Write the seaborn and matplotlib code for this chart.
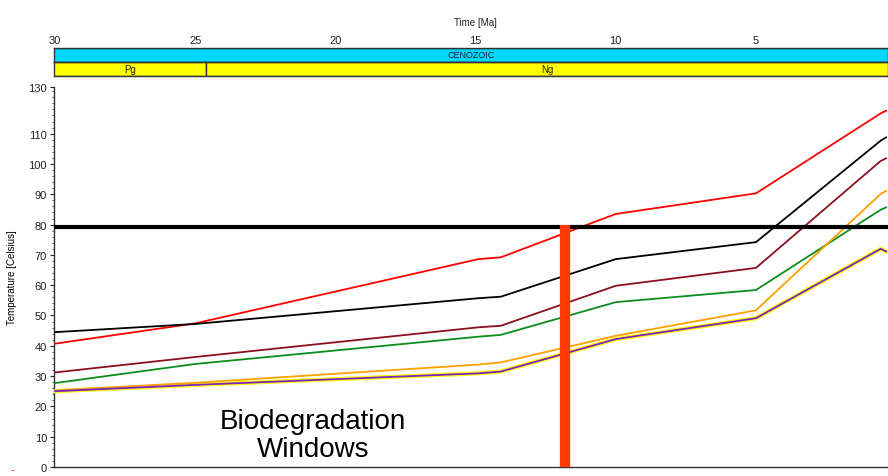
import numpy as np
import pandas as pd
import matplotlib
matplotlib.use("Agg")
import matplotlib.pyplot as plt
from matplotlib.ticker import MultipleLocator, FixedLocator
import seaborn as sns

# ---------------- data ----------------
time_ma = [30, 25, 14.9, 14.1, 10, 5, 0.55, 0.35]
red_t    = [40.7, 47.4, 68.6, 69.2, 83.5, 90.3, 116.7, 117.6]
black_t  = [44.5, 47.2, 55.7, 56.2, 68.6, 74.2, 107.7, 108.8]
maroon_t = [31.2, 36.3, 46.1, 46.6, 59.8, 65.7, 101.0, 101.9]
green_t  = [27.7, 34.0, 43.0, 43.6, 54.4, 58.4, 84.9, 85.7]
orange_t = [25.3, 27.8, 33.8, 34.5, 43.3, 51.7, 90.1, 91.2]
yellow_t = [25.0, 27.1, 30.9, 31.5, 42.2, 49.1, 72.0, 71.1]
purple_t = [25.0, 27.1, 30.9, 31.5, 42.2, 49.1, 72.0, 71.1]

threshold_c = 79.3          # thick black horizontal line
window_ma = 11.8            # red-orange vertical bar
era_names = ["CENOZOIC"]
era_start = [66.0]
era_end = [0.0]
period_names = ["Pg", "Ng"]
period_start = [66.0, 24.6]
period_end = [24.6, 0.0]
x_ticks = [30, 25, 20, 15, 10, 5]
y_ticks = [0, 10, 20, 30, 40, 50, 60, 70, 80, 90, 100, 110, 125.4]
y_tick_labels = ["0", "10", "20", "30", "40", "50", "60", "70", "80", "90", "100", "110", "130"]
annotation = "Biodegradation\nWindows"

series = {
    "yellow": yellow_t, "red": red_t, "black": black_t, "maroon": maroon_t,
    "green": green_t, "orange": orange_t, "purple": purple_t,
}
colors = {
    "yellow": "#FFFF00", "red": "#FF0000", "black": "#000000", "maroon": "#8B1020",
    "green": "#0C8C1C", "orange": "#FFA000", "purple": "#7A22C8",
}
widths = {"yellow": 3.0, "red": 1.3, "black": 1.3, "maroon": 1.3,
          "green": 1.3, "orange": 1.3, "purple": 1.3}

df = pd.concat([pd.DataFrame({"time": time_ma, "temp": v, "series": k})
                for k, v in series.items()], ignore_index=True)

# ---------------- figure ----------------
sns.set_style("white")
plt.rcParams["font.family"] = ["Liberation Sans Narrow", "Liberation Sans", "DejaVu Sans"]
plt.rcParams["text.color"] = "black"

W, H = 888, 477
fig = plt.figure(figsize=(W / 100, H / 100), dpi=100)

def fax(left, top, right, bottom):
    return [left / W, 1 - bottom / H, (right - left) / W, (bottom - top) / H]

xlim = (30.036, 0.29)

ax = fig.add_axes(fax(54, 88, 888, 468))
ax_c = fig.add_axes(fax(54, 49, 888, 62.7))
ax_y = fig.add_axes(fax(54, 62.7, 888, 77.3))

# main lines
for name in series:
    sub = df[df["series"] == name]
    sns.lineplot(data=sub, x="time", y="temp", ax=ax, color=colors[name],
                 lw=widths[name], sort=False, estimator=None, legend=False, zorder=3)

ax.axhline(threshold_c, color="black", lw=3.0, zorder=4)
ax.vlines(window_ma, 0, threshold_c + 0.5, color="#FF3A00", lw=7.4, zorder=5)

ax.text(20.8, 10.6, annotation, ha="center", va="center", fontsize=20, color="black",
        family=["Liberation Sans", "DejaVu Sans"], linespacing=1.12, zorder=6)

ax.set_xlim(*xlim)
ax.set_ylim(0, 125.4)
ax.set_xlabel("")
ax.set_ylabel("Temperature [Celsius]", fontsize=7, labelpad=8, color="black")
ax.yaxis.set_major_locator(FixedLocator(y_ticks))
ax.set_yticklabels(y_tick_labels)
ax.yaxis.set_minor_locator(MultipleLocator(2))
ax.tick_params(axis="y", which="major", direction="out", length=3, width=0.8,
               labelsize=8, colors="#222222", pad=2, left=True)
ax.tick_params(axis="y", which="minor", direction="out", length=1.5, width=0.6,
               left=True, colors="#444444")
ax.set_xticks([])
for s in ["top", "right"]:
    ax.spines[s].set_visible(False)
for s in ["left", "bottom"]:
    ax.spines[s].set_color("#333333")
    ax.spines[s].set_linewidth(1.0)

# era band (cyan)
ax_c.barh([0] * len(era_names), [s - e for s, e in zip(era_start, era_end)],
          left=era_end, height=1.0, color="#00D8FF", edgecolor="#333333", linewidth=1.0)
for n, s, e in zip(era_names, era_start, era_end):
    ax_c.text((max(e, xlim[1]) + min(s, xlim[0])) / 2, 0, n, ha="center", va="center",
              fontsize=6.5, color="#222222")
ax_c.set_xlim(*xlim)
ax_c.set_ylim(-0.5, 0.5)
ax_c.set_yticks([])
ax_c.xaxis.tick_top()
ax_c.set_xticks(x_ticks)
ax_c.set_xticklabels([str(t) for t in x_ticks])
ax_c.xaxis.set_minor_locator(MultipleLocator(1))
ax_c.tick_params(axis="x", which="major", direction="in", length=3, width=0.8,
                 labelsize=8, pad=2, colors="#222222", top=True, bottom=False)
ax_c.tick_params(axis="x", which="minor", direction="in", length=2, width=0.6,
                 top=True, bottom=False, colors="#444444")
for s in ax_c.spines.values():
    s.set_visible(True)
    s.set_color("#333333")
    s.set_linewidth(1.0)

# period band (yellow)
ax_y.barh([0] * len(period_names), [s - e for s, e in zip(period_start, period_end)],
          left=period_end, height=1.0, color="#FFFF00", edgecolor="#333333", linewidth=1.0)
for n, s, e in zip(period_names, period_start, period_end):
    ax_y.text((max(e, xlim[1]) + min(s, xlim[0])) / 2, 0, n, ha="center", va="center",
              fontsize=7, color="#222222")
ax_y.set_xlim(*xlim)
ax_y.set_ylim(-0.5, 0.5)
ax_y.set_xticks([])
ax_y.set_yticks([])
for s in ax_y.spines.values():
    s.set_visible(True)
    s.set_color("#333333")
    s.set_linewidth(1.0)

fig.text(475 / W, 1 - 23 / H, "Time [Ma]", ha="center", va="center", fontsize=7,
         color="#222222")
fig.text(12 / W, 1 - 470 / H, "-", ha="center", va="center", fontsize=8, color="red")

fig.savefig("out.png", dpi=100)
